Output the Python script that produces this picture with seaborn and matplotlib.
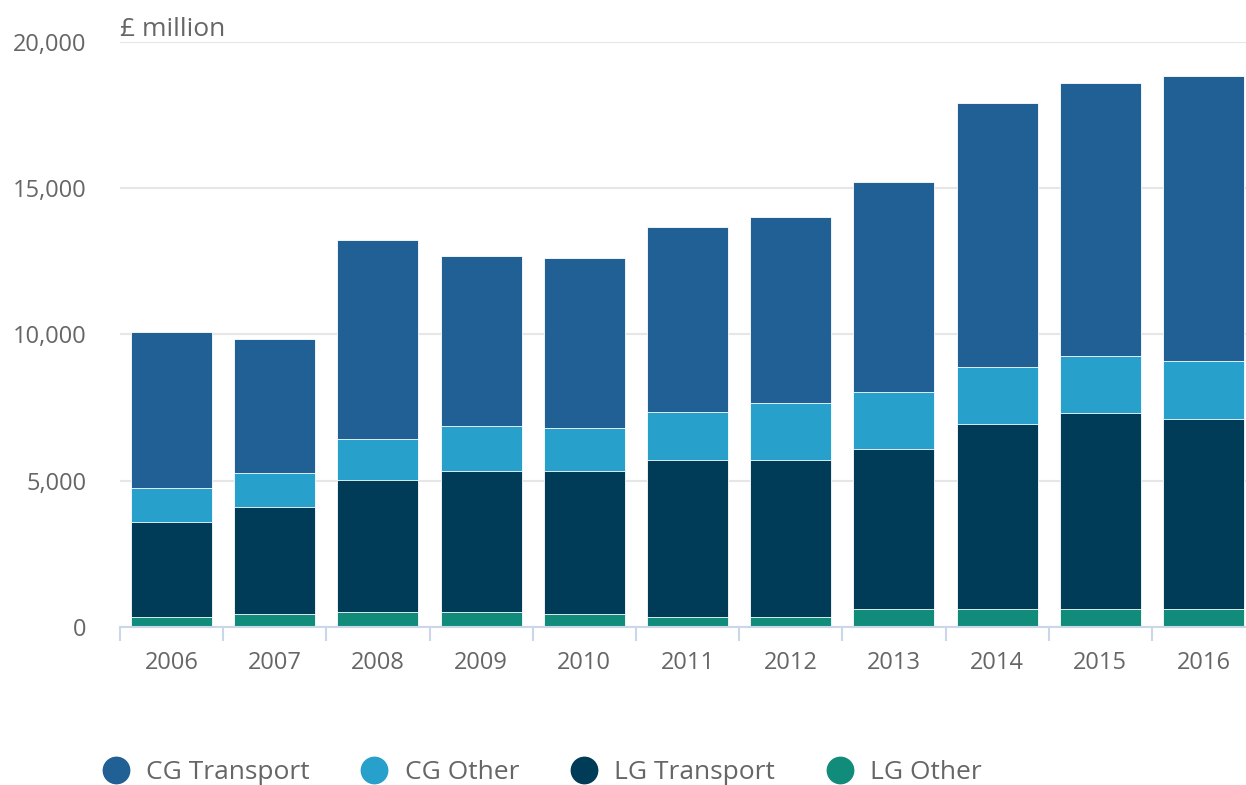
import numpy as np
import pandas as pd
import matplotlib
matplotlib.use("Agg")
import matplotlib.pyplot as plt
from matplotlib.lines import Line2D
import seaborn as sns

# ---- data (£ million) ----
years = ["2006", "2007", "2008", "2009", "2010", "2011", "2012", "2013", "2014", "2015", "2016"]
lg_other = [340, 440, 510, 510, 440, 340, 340, 620, 620, 620, 620]
lg_transport = [3250, 3660, 4520, 4820, 4890, 5370, 5370, 5470, 6320, 6700, 6490]
cg_other = [1160, 1160, 1400, 1540, 1470, 1640, 1950, 1940, 1950, 1940, 1980]
cg_transport = [5340, 4590, 6800, 5810, 5820, 6330, 6360, 7180, 9020, 9340, 9750]

series = ["CG Transport", "CG Other", "LG Transport", "LG Other"]
colors = ["#206095", "#27a0cc", "#003c57", "#118c7b"]

df = pd.DataFrame({"year": years, "LG Other": lg_other, "LG Transport": lg_transport,
                   "CG Other": cg_other, "CG Transport": cg_transport})
# cumulative tops, bottom -> top
df["c1"] = df["LG Other"]
df["c2"] = df["c1"] + df["LG Transport"]
df["c3"] = df["c2"] + df["CG Other"]
df["c4"] = df["c3"] + df["CG Transport"]

sns.set_style("white")
plt.rcParams["font.family"] = ["Open Sans", "DejaVu Sans"]

fig = plt.figure(figsize=(12.46, 7.85), dpi=100)
ax = fig.add_axes([0.0963, 0.2013, 0.911, 0.7452])

# draw from the tallest layer down so each lower one paints over it
for col, c in zip(["c4", "c3", "c2", "c1"], colors):
    sns.barplot(data=df, x="year", y=col, order=years, color=c, width=0.785,
                edgecolor="white", linewidth=0.6, saturation=1, ax=ax, zorder=3)

ax.set_ylim(0, 20000)
ax.set_xlim(-0.5, len(years) - 0.5)
ax.set_yticks([0, 5000, 10000, 15000, 20000])
ax.set_yticklabels(["0", "5,000", "10,000", "15,000", "20,000"])
ax.grid(axis="y", color="#e6e6e6", linewidth=1.5, zorder=0)
ax.set_axisbelow(True)
ax.set_xlabel("")
ax.set_ylabel("")

for s in ["top", "right", "left"]:
    ax.spines[s].set_visible(False)
ax.spines["bottom"].set_color("#ccd6eb")
ax.spines["bottom"].set_linewidth(1.5)
ax.spines["bottom"].set_zorder(4)

ax.tick_params(axis="y", length=0, pad=24, labelsize=17, labelcolor="#666666")
ax.tick_params(axis="x", which="major", length=0, pad=17, labelsize=17, labelcolor="#666666")
ax.set_xticks(np.arange(-0.5, len(years)), minor=True)
ax.tick_params(axis="x", which="minor", bottom=True, length=10, width=1.5, color="#ccd6eb")

fig.text(0.0965, 0.947, "£ million", fontsize=19, color="#666666", ha="left", va="bottom")

handles = [Line2D([], [], marker="o", linestyle="", markersize=19, markerfacecolor=c,
                  markeredgecolor=c) for c in colors]
fig.legend(handles, series, loc="center", bbox_to_anchor=(0.435, 0.016), ncol=4,
           frameon=False, fontsize=19, labelcolor="#666666", handletextpad=0.65,
           columnspacing=1.95, handlelength=1.0)

fig.savefig("out.png", dpi=100)
